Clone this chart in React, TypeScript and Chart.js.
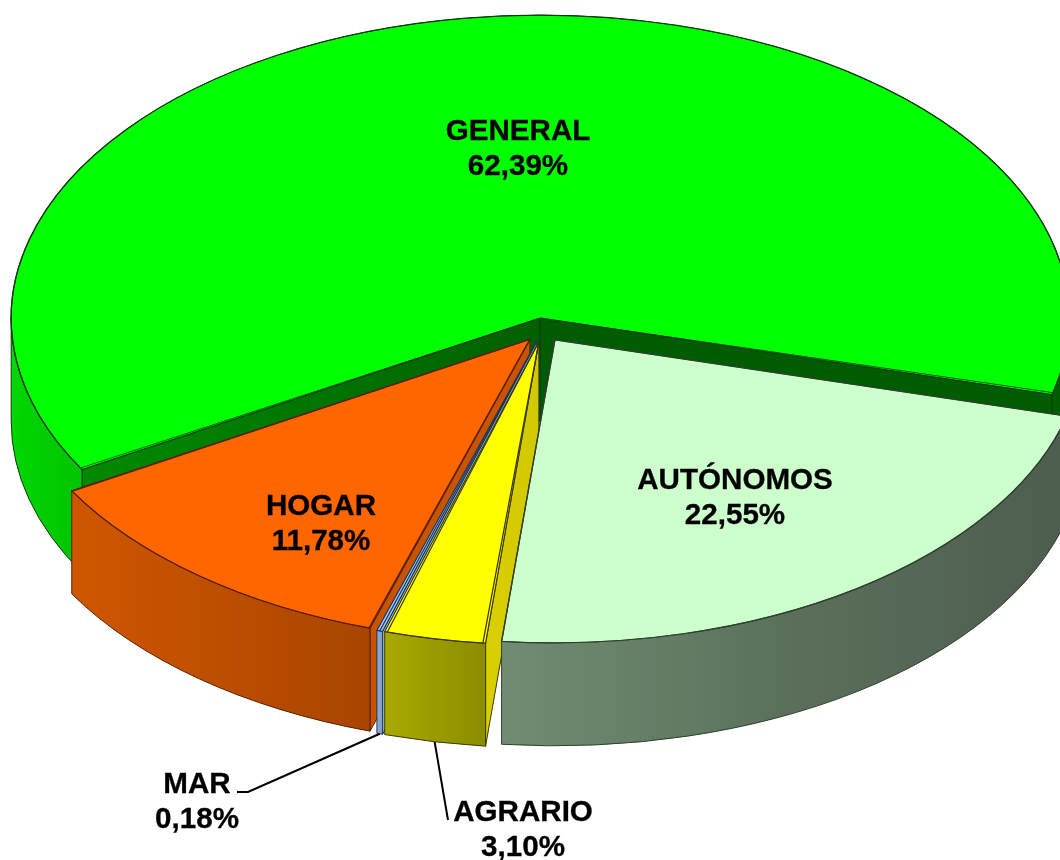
import React, { useEffect, useRef } from "react";
import { Chart, registerables } from "chart.js";

Chart.register(...registerables);

const categories = ["GENERAL", "AUTÓNOMOS", "AGRARIO", "MAR", "HOGAR"];
const shares = [62.39, 22.55, 3.1, 0.18, 11.78];
const topColors = ["#00ff00", "#ccffcc", "#ffff00", "#99ccff", "#ff6600"];
const edgeColors = ["#0b3b0b", "#2f3f2f", "#3a3a00", "#223355", "#5a2000"];
const outerWallStops = [
  ["#00d800", "#00cc00", "#00c400"],
  ["#718c72", "#5b705b", "#4e5d4e"],
  ["#a9a900", "#9a9a00", "#8c8c00"],
  ["#93acd0", "#8aa3c8", "#8098c0"],
  ["#cf5600", "#bd4e00", "#a84400"],
];
const radialWallStops = [
  ["#008a00", "#006000"],
  ["#5b705b", "#4e5d4e"],
  ["#d9cf00", "#d2c800"],
  ["#a8d8f0", "#90b8e0"],
  ["#c85400", "#c85400"],
];
const RIGHT_SHADE = "#005c00";
const drawOrder = [0, 4, 3, 2, 1];

const labelCenters = [
  [518, 132],
  [735, 481],
  [523, 813],
  [197, 785],
  [321, 507],
];
const leaderEnds: (number[] | null)[] = [
  null,
  null,
  [448, 820],
  [248, 792],
  null,
];

const CX = 543;
const CY = 330;
const RX = 529;
const RY = 303;
const DEPTH = 103;
const LINE_GAP = 35;
const EXPLODE = 0.0395; // share of the radius every slice is pulled out by
const BASE_SHIFT = 15.68;

// ArcElement moves a slice by offset / 4 and grows its radius by
// offset / 4 * fix, where fix depends on the slice's sweep.
function sweepFix(circumference: number) {
  return 1 - Math.sin(Math.min(Math.PI, circumference));
}

function sliceOffset(share: number) {
  const sweep = (share / 100) * Math.PI * 2;
  return (4 * BASE_SHIFT) / (1 - EXPLODE * sweepFix(sweep));
}

const sliceOffsets = shares.map(sliceOffset);

function drawnRadius(el: any) {
  return el.outerRadius + (el.options.offset / 4) * sweepFix(el.endAngle - el.startAngle);
}

function apexOf(el: any) {
  const mid = (el.startAngle + el.endAngle) / 2;
  const d = el.options.offset / 4 / drawnRadius(el);
  return { x: CX + Math.cos(mid) * d * RX, y: CY + Math.sin(mid) * d * RY, mid };
}

function edgePoint(a: { x: number; y: number }, angle: number) {
  return { x: a.x + Math.cos(angle) * RX, y: a.y + Math.sin(angle) * RY };
}

function fillWall(ctx: CanvasRenderingContext2D, fill: any, edge: string, path: () => void) {
  ctx.beginPath();
  path();
  ctx.closePath();
  ctx.fillStyle = fill;
  ctx.fill();
  ctx.strokeStyle = edge;
  ctx.lineWidth = 1;
  ctx.stroke();
}

function drawWalls(ctx: CanvasRenderingContext2D, el: any, i: number) {
  const a = apexOf(el);
  const { startAngle: s, endAngle: e } = el;
  const radial = (angle: number) => {
    const p = edgePoint(a, angle);
    const g = ctx.createLinearGradient(Math.min(a.x, p.x), 0, Math.max(a.x, p.x) + 1, 0);
    const stops = radialWallStops[i];
    g.addColorStop(0, stops[0]);
    g.addColorStop(1, stops[1]);
    fillWall(ctx, i === 0 && p.x > a.x ? RIGHT_SHADE : g, edgeColors[i], () => {
      ctx.moveTo(a.x, a.y);
      ctx.lineTo(p.x, p.y);
      ctx.lineTo(p.x, p.y + DEPTH);
      ctx.lineTo(a.x, a.y + DEPTH);
    });
  };
  if (Math.cos(s) < 0) radial(s);
  if (Math.cos(e) > 0) radial(e);

  for (let k = -2; k <= 2; k++) {
    const lo = Math.max(s, k * 2 * Math.PI);
    const hi = Math.min(e, k * 2 * Math.PI + Math.PI);
    if (hi <= lo) continue;
    const x0 = a.x + Math.cos(lo) * RX;
    const x1 = a.x + Math.cos(hi) * RX;
    const g = ctx.createLinearGradient(Math.min(x0, x1), 0, Math.max(x0, x1) + 1, 0);
    const stops = outerWallStops[i];
    g.addColorStop(0, stops[0]);
    g.addColorStop(0.5, stops[1]);
    g.addColorStop(1, stops[2]);
    fillWall(ctx, i === 0 && Math.cos(hi) > 0 ? RIGHT_SHADE : g, edgeColors[i], () => {
      ctx.ellipse(a.x, a.y, RX, RY, 0, lo, hi, false);
      ctx.ellipse(a.x, a.y + DEPTH, RX, RY, 0, hi, lo, true);
    });
  }
}

function sectorPath(ctx: CanvasRenderingContext2D, el: any) {
  const a = apexOf(el);
  ctx.beginPath();
  ctx.moveTo(a.x, a.y);
  ctx.ellipse(a.x, a.y, RX, RY, 0, el.startAngle, el.endAngle, false);
  ctx.closePath();
}

const pie3d = {
  id: "pie3d",
  beforeDatasetDraw(chart: any, args: any) {
    const ctx: CanvasRenderingContext2D = chart.ctx;
    const arcs = args.meta.data;
    drawOrder.forEach((i) => {
      const el = arcs[i];
      drawWalls(ctx, el, i);
      sectorPath(ctx, el);
      ctx.fillStyle = topColors[i];
      ctx.fill();
      ctx.save();
      ctx.translate(CX, CY);
      ctx.scale(RX / drawnRadius(el), RY / drawnRadius(el));
      ctx.translate(-el.x, -el.y);
      el.draw(ctx);
      ctx.restore();
      sectorPath(ctx, el);
      ctx.strokeStyle = edgeColors[i];
      ctx.lineWidth = 1.2;
      ctx.stroke();
    });
    return false;
  },
  afterDraw(chart: any) {
    const ctx: CanvasRenderingContext2D = chart.ctx;
    const arcs = chart.getDatasetMeta(0).data;
    ctx.save();
    categories.forEach((name, i) => {
      const end = leaderEnds[i];
      if (end) {
        const a = apexOf(arcs[i]);
        const p = edgePoint(a, a.mid);
        ctx.beginPath();
        ctx.moveTo(p.x, p.y + DEPTH);
        ctx.lineTo(end[0], end[1]);
        if (i === 3) ctx.lineTo(end[0] - 11, end[1]);
        ctx.strokeStyle = "#000000";
        ctx.lineWidth = 2;
        ctx.stroke();
      }
      const [x, y] = labelCenters[i];
      const pct = shares[i].toFixed(2).replace(".", ",") + "%";
      ctx.fillStyle = "#000000";
      ctx.strokeStyle = "#000000";
      ctx.lineWidth = 0.3;
      ctx.font = 'bold 29.6px "Liberation Sans", Arial, sans-serif';
      ctx.textAlign = "center";
      ctx.textBaseline = "middle";
      ctx.fillText(name, x, y);
      ctx.strokeText(name, x, y);
      ctx.fillText(pct, x, y + LINE_GAP);
      ctx.strokeText(pct, x, y + LINE_GAP);
    });
    ctx.restore();
  },
};

export default function App() {
  const ref = useRef<HTMLCanvasElement | null>(null);
  useEffect(() => {
    if (!ref.current) return;
    const chart = new Chart(ref.current, {
      type: "pie",
      data: {
        labels: categories,
        datasets: [
          {
            data: shares,
            backgroundColor: topColors,
            borderColor: edgeColors,
            borderWidth: 1,
            offset: sliceOffsets,
            clip: false,
          } as any,
        ],
      },
      options: {
        responsive: false,
        animation: false,
        rotation: 240,
        layout: { padding: 0 },
        plugins: { legend: { display: false }, tooltip: { enabled: false }, title: { display: false } },
      },
      plugins: [pie3d],
    } as any);
    return () => chart.destroy();
  }, []);
  return (
    <div style={{ position: "absolute", left: 0, top: 0, width: 1060, height: 860, background: "#ffffff" }}>
      <canvas ref={ref} width={1060} height={860} style={{ display: "block" }} />
    </div>
  );
}
